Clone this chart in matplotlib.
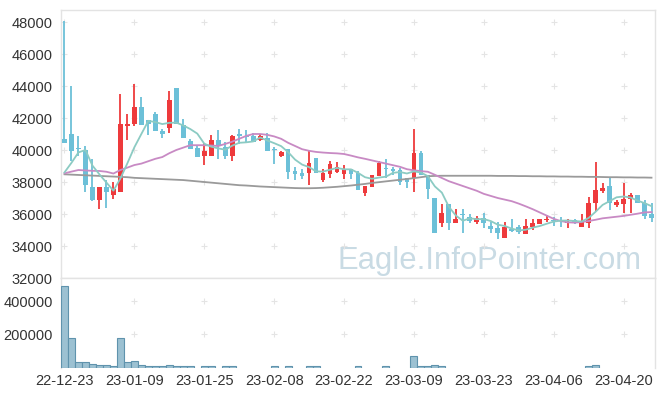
import matplotlib
matplotlib.use("Agg")
import matplotlib.pyplot as plt
import numpy as np
import pandas as pd

# ---------------- data ----------------
opens = [40700, 41000, 40150, 40000, 37700, 36850, 37670, 37170, 37400, 41480,
         41650, 42700, 41850, 42250, 41200, 41350, 43900, 41550, 40560, 40150,
         39650, 39650, 40650, 40200, 39650, 41000, 40880, 40850, 40630, 40730,
         40060, 39650, 40060, 38690, 38560, 38580, 39500, 38120, 38520, 38640,
         38520, 38790, 38580, 37330, 37710, 38370, 38860, 38800, 38750, 38270,
         38230, 39830, 38440, 36980, 35460, 36620, 35420, 36000, 35790, 35500,
         35770, 35250, 35100, 34520, 35040, 35170, 34750, 35210, 35380, 35600,
         35650, 35630, 35460, 35600, 35170, 35460, 36670, 37460, 37750, 36560,
         36620, 36920, 37190, 36670, 36000]
highs = [48050, 44000, 40900, 40250, 39450, 37700, 38120, 37980, 43480, 42250,
         44120, 43300, 41900, 42350, 41300, 43700, 43900, 41920, 40670, 40250,
         40460, 40940, 41250, 40520, 40940, 41290, 41250, 41040, 41000, 41040,
         40170, 39960, 40060, 38920, 38810, 40000, 39500, 38790, 39330, 39270,
         39060, 38790, 38700, 37750, 38440, 39300, 39420, 38960, 38900, 38270,
         41310, 39940, 38440, 36980, 36620, 36620, 36290, 36290, 36000, 35900,
         36040, 35520, 35520, 35520, 35670, 35300, 35670, 35670, 35670, 35940,
         35800, 35800, 35670, 35670, 35980, 37080, 39270, 37920, 38300, 36880,
         37920, 37300, 37200, 36880, 36710]
lows = [40450, 39300, 39650, 37350, 36800, 36300, 36400, 36920, 37400, 40600,
        41500, 41550, 40950, 41200, 40730, 41080, 41600, 40770, 40080, 39580,
        39040, 39650, 39420, 39420, 39330, 40380, 40420, 40520, 40580, 39950,
        39130, 39540, 38170, 38120, 38170, 37790, 38540, 38020, 38230, 38540,
        38190, 38190, 37500, 37120, 37710, 38370, 38230, 38440, 37810, 37600,
        37400, 38440, 36960, 34830, 35170, 35000, 35420, 34800, 35420, 35380,
        35150, 34790, 34420, 34520, 34880, 34750, 34750, 35000, 35380, 35500,
        35250, 35210, 35100, 35380, 35170, 35150, 36200, 37330, 36250, 36420,
        36060, 36040, 36670, 35690, 35520]
closes = [40450, 39950, 40080, 37800, 36850, 37700, 37400, 37540, 41600, 41620,
          42700, 41550, 41650, 41200, 41000, 43100, 41600, 40770, 40080, 39580,
          39950, 40650, 40250, 39650, 40850, 40850, 40800, 40520, 40870, 39950,
          40000, 39870, 38650, 38520, 38400, 39210, 38540, 38580, 39120, 38940,
          38790, 38520, 37500, 37750, 38440, 39170, 38800, 38690, 38020, 37980,
          39830, 38440, 37540, 34830, 36040, 35420, 35690, 35920, 35580, 35770,
          35460, 35060, 34790, 35170, 34960, 34900, 35250, 35460, 35670, 35670,
          35580, 35540, 35520, 35500, 35520, 36670, 37500, 37650, 36670, 36730,
          36920, 37190, 36670, 35900, 35770]
volumes = [494000, 178800, 31500, 31500, 19400, 15000, 15000, 9000, 178800, 31500,
           39400, 15000, 9000, 9000, 9000, 15000, 9000, 9000, 9000, 0,
           8000, 8000, 0, 8000, 8000, 0, 0, 0, 0, 0,
           8000, 0, 8000, 0, 0, 8000, 8000, 0, 0, 0,
           0, 0, 8000, 0, 0, 0, 8000, 0, 0, 0,
           68000, 8000, 8000, 15000, 8000, 0, 0, 0, 0, 0,
           0, 0, 0, 0, 0, 0, 0, 0, 0, 0,
           0, 0, 0, 0, 0, 8000, 15000, 0, 0, 0,
           0, 0, 0, 0, 0]
# moving averages
ma5_head = [38600, 39200, 39850, 40000]
ma20 = [38540, 38650, 38750, 38720, 38700, 38690, 38640, 38530, 38750, 38900,
        39060, 39150, 39300, 39450, 39560, 39800, 40000, 40150, 40300, 40300,
        40300, 40280, 40250, 40380, 40520, 40700, 40880, 41000, 41000, 40950,
        40850, 40700, 40450, 40250, 40050, 39950, 39880, 39840, 39810, 39790,
        39750, 39650, 39540, 39450, 39350, 39250, 39150, 39050, 38950, 38800,
        38730, 38680, 38640, 38450, 38250, 38050, 37900, 37750, 37600, 37450,
        37260, 37130, 37000, 36900, 36800, 36650, 36480, 36300, 36100, 35900,
        35700, 35560, 35480, 35460, 35500, 35560, 35640, 35730, 35780, 35830,
        35880, 35950, 36020, 36100, 36120]
ma60 = [38480, 38460, 38440, 38420, 38400, 38380, 38360, 38340, 38320, 38300,
        38260, 38240, 38220, 38200, 38180, 38160, 38140, 38120, 38080, 38040,
        38000, 37960, 37920, 37880, 37840, 37800, 37780, 37750, 37720, 37700,
        37680, 37660, 37640, 37620, 37610, 37610, 37620, 37640, 37670, 37700,
        37740, 37780, 37830, 37880, 37940, 37990, 38040, 38090, 38140, 38190,
        38240, 38300, 38360, 38380, 38390, 38390, 38390, 38390, 38390, 38390,
        38390, 38390, 38380, 38380, 38380, 38370, 38370, 38360, 38360, 38350,
        38350, 38340, 38340, 38330, 38330, 38320, 38320, 38310, 38300, 38300,
        38290, 38290, 38280, 38280, 38270]
tick_idx = [0, 10, 20, 30, 40, 50, 60, 70, 80]
tick_labels = ["22-12-23", "23-01-09", "23-01-25", "23-02-08", "23-02-22",
               "23-03-09", "23-03-23", "23-04-06", "23-04-20"]
price_ticks = [32000, 34000, 36000, 38000, 40000, 42000, 44000, 46000, 48000]
vol_ticks = [200000, 400000]
watermark = "Eagle.InfoPointer.com"

# ---------------- styling ----------------
plt.rcParams['font.family'] = ['Liberation Sans', 'DejaVu Sans']
UP = '#ee3a3c'
DOWN = '#6cc0d8'
GRID = '#e4e4e4'
SPINE = '#e3e3e3'
TXT = '#333333'

W, H = 665, 396
fig = plt.figure(figsize=(W / 100, H / 100), dpi=100)
L, R = 61, 655
ax = fig.add_axes([L / W, 1 - 278 / H, (R - L) / W, (278 - 10) / H])
axv = fig.add_axes([L / W, 1 - 367.5 / H, (R - L) / W, (367.5 - 278) / H])

n = len(closes)
x = np.arange(n)
o = np.array(opens); c = np.array(closes); h = np.array(highs); lo = np.array(lows)
up = c >= o
colors = np.where(up, UP, DOWN)

# wicks
ax.vlines(x, lo, h, colors=colors, linewidth=1.3, zorder=3)
# bodies
bottom = np.minimum(o, c)
height = np.maximum(np.abs(c - o), 60)
ax.bar(x, height, bottom=bottom, width=0.68, color=colors, linewidth=0, zorder=4)

# moving averages
ma5 = pd.Series(closes).rolling(5).mean().to_numpy()
ma5[:4] = ma5_head
ax.plot(x, ma60, color='#9a9a9a', linewidth=1.3, zorder=5)
ax.plot(x, ma20, color='#c88ac4', linewidth=1.3, zorder=5)
ax.plot(x, ma5, color='#8ccbc3', linewidth=1.3, zorder=5)

ax.set_xlim(-0.5, 84.5)
ax.set_ylim(32000, 48750)
ax.set_yticks(price_ticks)
ax.set_yticklabels([str(v) for v in price_ticks])
ax.set_xticks([])
ax.tick_params(axis='y', length=0, pad=6, labelsize=10.5, labelcolor=TXT)

# grid "+" marks
gx, gy = np.meshgrid(tick_idx, price_ticks[1:])
ax.plot(gx.ravel(), gy.ravel(), '+', color=GRID, markersize=5, mew=0.8, zorder=1)

ax.text((337 - L) / (R - L), (278 - 268.5) / 268, watermark, transform=ax.transAxes,
        fontsize=22.3, color='#c9dbe4', ha='left', va='baseline', zorder=0)

for s in ['left', 'right', 'top', 'bottom']:
    ax.spines[s].set_color(SPINE)
    ax.spines[s].set_linewidth(1.0)

# volume
vol = np.array(volumes)
mask = vol > 0
axv.bar(x[mask], vol[mask], width=1.0, color='#9cc1d2', edgecolor='#5f93ad',
        linewidth=0.8, zorder=3)
axv.set_xlim(-0.5, 84.5)
axv.set_ylim(0, 542000)
axv.set_yticks(vol_ticks)
axv.set_yticklabels([str(v) for v in vol_ticks])
axv.set_xticks(tick_idx)
axv.set_xticklabels(tick_labels)
axv.tick_params(axis='y', length=0, pad=6, labelsize=10.5, labelcolor=TXT)
axv.tick_params(axis='x', length=0, pad=5, labelsize=10.5, labelcolor=TXT)
gx2, gy2 = np.meshgrid(tick_idx[1:], vol_ticks)
axv.plot(gx2.ravel(), gy2.ravel(), '+', color=GRID, markersize=5, mew=0.8, zorder=1)
for s in ['left', 'right', 'top']:
    axv.spines[s].set_color(SPINE)
    axv.spines[s].set_linewidth(1.0)
axv.spines['bottom'].set_visible(False)

fig.savefig('out.png', dpi=100)
